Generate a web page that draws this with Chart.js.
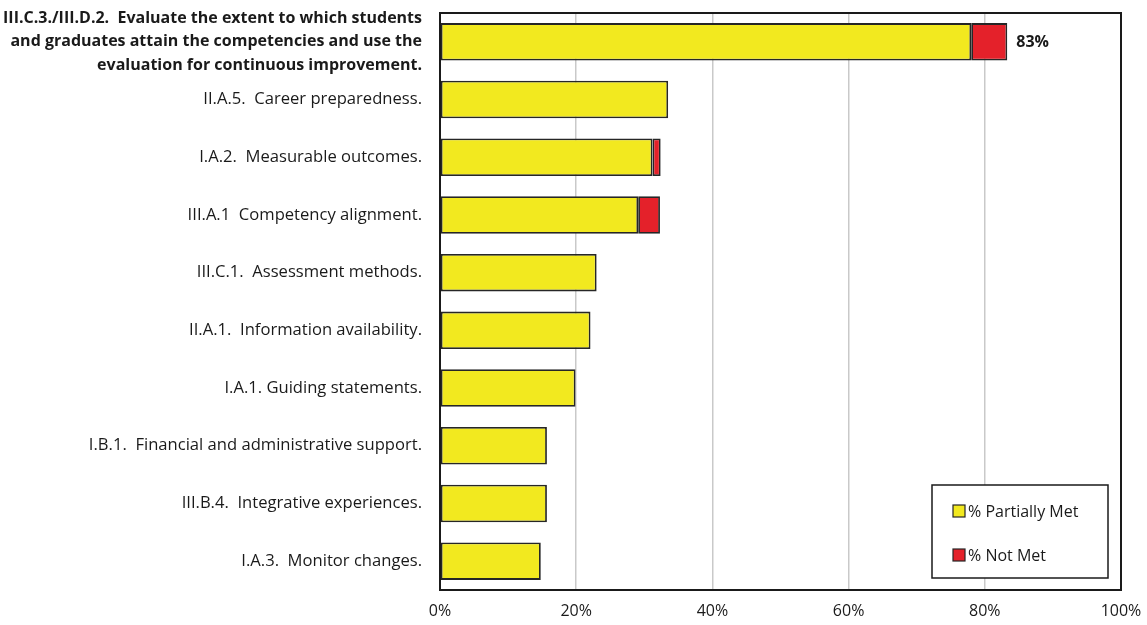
<!DOCTYPE html>
<html>
<head>
<meta charset="utf-8">
<script src="https://cdn.jsdelivr.net/npm/chart.js@4"></script>
<style>
  html, body { margin: 0; padding: 0; background: #fff; }
  #wrap { width: 1147px; height: 625px; }
</style>
</head>
<body>
<div id="wrap"><canvas id="chart"></canvas></div>
<script>
// standards, top to bottom
const categories = [
  ['III.C.3./III.D.2.  Evaluate the extent to which students',
   'and graduates attain the competencies and use the',
   'evaluation for continuous improvement.'],
  'II.A.5.  Career preparedness.',
  'I.A.2.  Measurable outcomes.',
  'III.A.1  Competency alignment.',
  'III.C.1.  Assessment methods.',
  'II.A.1.  Information availability.',
  'I.A.1. Guiding statements.',
  'I.B.1.  Financial and administrative support.',
  'III.B.4.  Integrative experiences.',
  'I.A.3.  Monitor changes.',
];
const partiallyMet = [78, 33.5, 31.2, 29.1, 23, 22.1, 19.9, 15.7, 15.7, 14.8];
const notMet       = [5.3, 0, 1.2, 3.2, 0, 0, 0, 0, 0, 0];
const xTicks = [0, 20, 40, 60, 80, 100];
const calloutIndex = 0;
const calloutText = '83%';

const FONT = '"Open Sans", Lato, sans-serif';
const YELLOW = '#f2e91f';
const RED = '#e4212a';
const EDGE = '#262626';

// frame around plot area + boxed legend + total label on top bar
const extras = {
  id: 'extras',
  afterDatasetsDraw(chart) {
    const { ctx, chartArea: a, scales } = chart;
    ctx.save();
    ctx.strokeStyle = '#1a1a1a';
    ctx.lineWidth = 2;
    ctx.strokeRect(a.left, a.top, a.right - a.left, a.bottom - a.top);

    // total label
    const xs = scales.x, ys = scales.y;
    const tot = partiallyMet[calloutIndex] + notMet[calloutIndex];
    ctx.fillStyle = '#1a1a1a';
    ctx.font = 'bold 16px ' + FONT;
    ctx.textBaseline = 'middle';
    ctx.textAlign = 'left';
    ctx.fillText(calloutText, xs.getPixelForValue(tot) + 9, ys.getPixelForValue(calloutIndex) + 1);

    // legend box
    const bx = 932, by = 485, bw = 176, bh = 93;
    ctx.fillStyle = '#fff';
    ctx.fillRect(bx, by, bw, bh);
    ctx.lineWidth = 1.5;
    ctx.strokeRect(bx, by, bw, bh);
    ctx.font = '16px ' + FONT;
    chart.data.datasets.forEach((ds, i) => {
      const y = by + 26 + i * 44;
      ctx.fillStyle = ds.backgroundColor;
      ctx.fillRect(bx + 21, y - 6, 12, 12);
      ctx.strokeStyle = EDGE;
      ctx.lineWidth = 1.2;
      ctx.strokeRect(bx + 21, y - 6, 12, 12);
      ctx.fillStyle = '#1a1a1a';
      ctx.fillText(ds.label, bx + 36, y + 1);
    });
    ctx.restore();
  }
};

new Chart(document.getElementById('chart'), {
  type: 'bar',
  data: {
    labels: categories,
    datasets: [
      { label: '% Partially Met', data: partiallyMet, backgroundColor: YELLOW,
        borderColor: EDGE, borderWidth: 1.8, borderSkipped: false },
      { label: '% Not Met', data: notMet, backgroundColor: RED,
        borderColor: EDGE, borderWidth: 1.8, borderSkipped: false },
    ],
  },
  options: {
    indexAxis: 'y',
    responsive: true, maintainAspectRatio: false, animation: false,
    layout: { autoPadding: false, padding: { top: 13, right: 26, bottom: 0, left: 0 } },
    datasets: { bar: { categoryPercentage: 1, barPercentage: 0.65 } },
    plugins: { legend: { display: false }, tooltip: { enabled: false } },
    scales: {
      x: {
        stacked: true, min: 0, max: 100,
        afterBuildTicks: s => { s.ticks = xTicks.map(v => ({ value: v })); },
        afterFit: s => { s.height = 35; s.paddingLeft = 0; s.paddingRight = 0; },
        ticks: { color: '#1a1a1a', font: { family: FONT, size: 16 }, padding: 12,
          callback: v => v + '%' },
        grid: { color: '#c9c9c9', lineWidth: 1.5, drawTicks: false },
        border: { display: false },
      },
      y: {
        stacked: true,
        afterFit: s => { s.width = 440; s.paddingTop = 0; s.paddingBottom = 0; },
        ticks: {
          color: '#1a1a1a', padding: 18, autoSkip: false,
          font: c => c.index === calloutIndex
            ? { family: FONT, size: 16, weight: 'bold', lineHeight: 1.45 }
            : { family: FONT, size: 16.6 },
        },
        grid: { display: false, drawTicks: false },
        border: { display: false },
      },
    },
  },
  plugins: [extras],
});
</script>
</body>
</html>
